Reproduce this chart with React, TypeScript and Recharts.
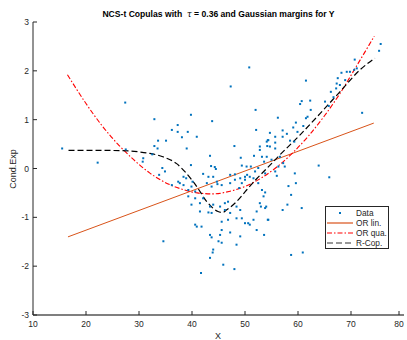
import { ComposedChart, Scatter, Line, XAxis, YAxis } from 'recharts'

const dataX = [
  15.5, 22.2, 27.4, 27.5, 50.8, 47.3, 52.0, 32.9, 39.8, 43.8, 37.3, 36.2, 39.2, 37.3, 38.1, 40.9, 33.6, 35.1, 52.1, 32.9,
  33.5, 39.0, 48.0, 32.5, 30.8, 30.7, 43.4, 39.8, 43.6, 44.3, 44.5, 34.4, 34.9, 33.8, 38.4, 38.9, 42.1, 43.1, 49.2, 49.4,
  51.7, 52.8, 52.8, 53.2, 54.1, 54.3, 54.2, 53.6, 50.3, 51.1, 50.4, 50.0, 49.1, 51.9, 52.5, 48.1, 34.6, 37.4, 37.7, 38.4,
  36.2, 39.3, 39.9, 40.6, 39.3, 40.6, 39.9, 41.5, 42.1, 43.4, 44.0, 41.5, 43.1, 43.7, 45.3, 46.2, 46.8, 46.2, 47.2, 46.8,
  45.6, 48.4, 49.1, 49.4, 50.0, 50.6, 48.4, 49.1, 48.4, 47.2, 45.6, 45.3, 43.4, 43.7, 45.0, 45.6, 40.9, 41.8, 40.6, 44.0,
  43.9, 43.4, 45.9, 48.0, 41.7, 49.4, 50.0, 50.9, 51.6, 52.5, 53.2, 53.5, 52.8, 53.8, 52.2, 51.6, 52.2, 50.9, 54.4, 44.0,
  44.7, 43.7, 42.8, 47.2, 48.1, 75.6, 75.3, 70.7, 71.1, 70.6, 69.8, 69.2, 68.2, 67.5, 68.9, 67.3, 67.9, 67.2, 66.2, 66.7,
  65.1, 65.8, 61.5, 60.7, 60.4, 62.3, 62.4, 61.8, 61.5, 56.2, 59.6, 59.1, 57.1, 61.0, 59.9, 57.9, 54.7, 55.7, 57.1, 58.5,
  59.3, 54.4, 55.7, 54.7, 55.7, 54.1, 55.0, 56.6, 57.2, 56.3, 57.5, 55.7, 56.0, 59.4, 63.9, 65.9, 72.1, 53.8, 58.2, 59.6,
  58.7, 53.8, 58.0, 57.1, 60.7, 54.0, 53.0, 54.3, 53.6, 58.7, 60.9, 40.1, 44.8, 45.6, 48.9, 47.2,
]
const dataY = [
  0.41, 0.12, 1.35, 0.39, 2.07, 1.68, 1.2, 1.01, 1.1, 0.97, 0.89, 0.79, 0.75, 0.75, 0.64, 0.65, 0.57, 0.57, 0.79, 0.46,
  0.41, 0.41, 0.46, 0.29, 0.21, 0.14, 0.26, 0.07, 0.05, 0.03, -0.01, 0.01, -0.06, -0.13, -0.17, -0.2, -0.11, -0.17, 0.22, 0.06,
  0.26, 0.45, 0.38, 0.24, 0.55, 0.58, 0.46, 0.14, 0.04, 0.04, -0.13, -0.17, -0.2, -0.06, 0.01, -0.12, -1.49, -0.27, -0.3, -0.34,
  -0.34, -0.44, -0.37, -0.47, -0.57, -0.61, -0.74, -0.71, -0.61, -0.78, -0.74, -0.88, -0.9, -0.91, -0.78, -0.71, -0.68, -0.85, -0.91, -1.05,
  -1.09, -0.78, -0.85, -1.02, -1.12, -1.12, -1.02, -1.39, -1.56, -1.31, -1.26, -1.36, -1.36, -1.41, -1.49, -1.52, -1.19, -1.19, -1.15, -1.66,
  -1.72, -1.83, -1.97, -2.06, -2.14, -0.3, -0.23, -0.17, -0.2, -0.3, -0.44, -0.57, -0.71, -0.81, -0.88, -1.05, -1.26, -1.15, -1.05, -0.17,
  -0.27, -0.37, -0.3, -0.3, -0.23, 2.55, 2.41, 2.23, 2.05, 2.02, 1.98, 1.98, 1.96, 1.85, 1.81, 1.74, 1.71, 1.64, 1.57, 1.46,
  1.37, 1.28, 1.8, 1.38, 1.32, 1.39, 1.2, 1.06, 1.03, 1.04, 0.94, 0.84, 0.78, 0.87, 0.75, 0.71, 0.73, 0.65, 0.65, 0.57,
  0.55, 0.58, 0.53, 0.45, 0.41, 0.24, 0.18, 0.24, 0.11, 0.04, 0.04, -0.06, -0.15, -0.1, 0.06, -0.18, 1.14, -0.1, -0.36, -0.3,
  -0.54, -0.49, -0.74, -0.85, -0.81, -0.78, -0.78, -1.05, -1.36, -1.77, -1.72, -0.27, -0.32, -0.34, -0.4, -0.13,
]

// OR lin.
const linX = [16.6, 74.3]
const linY = [-1.4, 0.93]

// OR qua.
const quaX = [16.5, 20, 23, 26, 29, 32, 35, 38, 41, 44, 47, 50, 53, 56, 59, 62, 65, 68, 71, 74.4]
const quaY = [1.92, 1.33, 0.88, 0.5, 0.18, -0.09, -0.29, -0.42, -0.5, -0.52, -0.47, -0.37, -0.2, 0.03, 0.32, 0.67, 1.08, 1.55, 2.09, 2.71]

// R-Cop.
const copX = [16.7, 20, 24, 28, 30, 32, 34.5, 37.1, 38.7, 40.9, 42.8, 44.9, 45.8, 46.5, 48.4, 50.3, 52.2, 54.1, 56.6, 60.4, 64.2, 67.9, 71.7, 74.5]
const copY = [0.37, 0.37, 0.37, 0.36, 0.34, 0.31, 0.24, 0.1, -0.07, -0.37, -0.68, -0.88, -0.9, -0.85, -0.68, -0.44, -0.21, 0, 0.28, 0.69, 1.13, 1.57, 2.02, 2.26]

const xTicks = [10, 20, 30, 40, 50, 60, 70, 80]
const yTicks = [-3, -2, -1, 0, 1, 2, 3]

const zip = (xs: number[], ys: number[]) => xs.map((x, i) => ({ x, y: ys[i] }))

const FONT = '"Liberation Sans", Arial, sans-serif'
const TEXT = '#262626'

const XTick = ({ x, y, payload }: any) => (
  <g>
    <line x1={x} y1={y} x2={x} y2={y - 4} stroke={TEXT} />
    <text x={x} y={y + 12} textAnchor="middle" fontSize={8.5} fill={TEXT} fontFamily={FONT}>
      {payload.value}
    </text>
  </g>
)

const YTick = ({ x, y, payload }: any) => (
  <g>
    <line x1={x} y1={y} x2={x + 4} y2={y} stroke={TEXT} />
    <text x={x - 4} y={y + 3} textAnchor="end" fontSize={8.5} fill={TEXT} fontFamily={FONT}>
      {payload.value}
    </text>
  </g>
)

const Dot = ({ cx, cy }: any) => <rect x={cx - 1} y={cy - 1} width={2} height={2} fill="#0072BD" />

const legendRows = [
  { label: 'Data', kind: 'dot' },
  { label: 'OR lin.', kind: 'lin' },
  { label: 'OR qua.', kind: 'qua' },
  { label: 'R-Cop.', kind: 'cop' },
]

const Sample = ({ kind }: { kind: string }) => (
  <svg width={28} height={10} style={{ display: 'block' }}>
    {kind === 'dot' && <rect x={13} y={4} width={2} height={2} fill="#0072BD" />}
    {kind === 'lin' && <line x1={1} y1={5} x2={27} y2={5} stroke="#D95319" strokeWidth={1.2} />}
    {kind === 'qua' && <line x1={1} y1={5} x2={27} y2={5} stroke="#FF0000" strokeWidth={1.2} strokeDasharray="5 2 1.5 2" />}
    {kind === 'cop' && <line x1={1} y1={5} x2={27} y2={5} stroke="#333" strokeWidth={1.2} strokeDasharray="6 3" />}
  </svg>
)

export default function App() {
  return (
    <div style={{ position: 'absolute', left: 0, top: 0, width: 407, height: 340, background: '#fff', fontFamily: FONT }}>
      <ComposedChart width={407} height={340} margin={{ top: 22, right: 3, bottom: 0, left: 0 }}>
        <XAxis
          type="number"
          dataKey="x"
          domain={[10, 80]}
          ticks={xTicks}
          height={25}
          tickSize={0}
          tickMargin={0}
          tick={<XTick />}
          axisLine={{ stroke: '#555', strokeWidth: 1.3 }}
          allowDataOverflow
        />
        <YAxis
          type="number"
          dataKey="y"
          domain={[-3, 3]}
          ticks={yTicks}
          width={33}
          tickSize={0}
          tickMargin={0}
          tick={<YTick />}
          axisLine={{ stroke: TEXT }}
          allowDataOverflow
        />
        <Scatter data={zip(dataX, dataY)} dataKey="y" shape={<Dot />} isAnimationActive={false} />
        <Line data={zip(linX, linY)} dataKey="y" type="linear" stroke="#D95319" strokeWidth={1} dot={false} isAnimationActive={false} />
        <Line data={zip(quaX, quaY)} dataKey="y" type="monotone" stroke="#FF0000" strokeWidth={1.1} strokeDasharray="5 2 1.5 2" dot={false} isAnimationActive={false} />
        <Line data={zip(copX, copY)} dataKey="y" type="monotone" stroke="#000" strokeWidth={1.2} strokeDasharray="6 3" dot={false} isAnimationActive={false} />
      </ComposedChart>

      <div style={{ position: 'absolute', left: 33, width: 371, top: 8, lineHeight: '12px', textAlign: 'center', fontSize: 8.6, fontWeight: 'bold', color: '#000', whiteSpace: 'pre' }}>
        {'NCS-t Copulas with  '}
        <span style={{ fontStyle: 'italic', fontWeight: 'normal', fontFamily: '"DejaVu Serif", serif' }}>τ</span>
        {' = 0.36 and Gaussian margins for Y'}
      </div>

      <div style={{ position: 'absolute', left: 208, width: 20, top: 330, lineHeight: '12px', textAlign: 'center', fontSize: 9, color: TEXT }}>X</div>

      <div style={{ position: 'absolute', left: 13, top: 169, width: 0, height: 0 }}>
        <div style={{ position: 'absolute', transform: 'translate(-50%, -50%) rotate(-90deg)', fontSize: 9, color: TEXT, whiteSpace: 'nowrap', lineHeight: '12px' }}>
          Cond.Exp
        </div>
      </div>

      <div style={{ position: 'absolute', left: 325, top: 206, width: 64, height: 43, border: '1px solid #262626', background: '#fff', boxSizing: 'border-box', paddingTop: 1 }}>
        {legendRows.map((r) => (
          <div key={r.label} style={{ display: 'flex', alignItems: 'center', height: 10 }}>
            <Sample kind={r.kind} />
            <span style={{ fontSize: 8.3, color: TEXT, marginLeft: 2, lineHeight: '10px' }}>{r.label}</span>
          </div>
        ))}
      </div>
    </div>
  )
}
